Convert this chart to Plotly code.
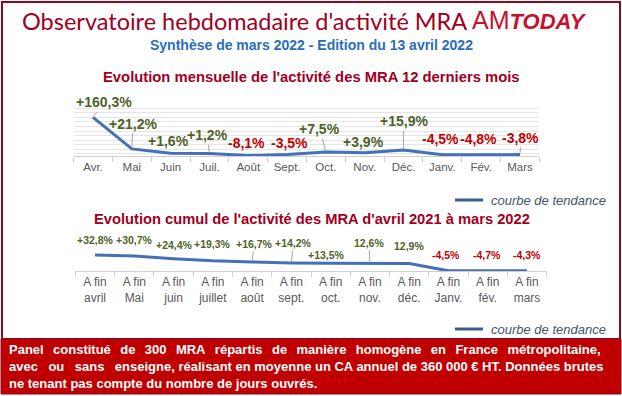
import plotly.graph_objects as go

# ---------------- data ----------------
months = ["Avr.", "Mai", "Juin", "Juil.", "Août", "Sept.", "Oct.", "Nov.", "Déc.", "Janv.", "Fév.", "Mars"]
monthly = [160.3, 21.2, 1.6, 1.2, -8.1, -3.5, 7.5, 3.9, 15.9, -4.5, -4.8, -3.8]
monthly_labels = ["+160,3%", "+21,2%", "+1,6%", "+1,2%", "-8,1%", "-3,5%", "+7,5%", "+3,9%", "+15,9%", "-4,5%", "-4,8%", "-3,8%"]

cumul_months = ["avril", "Mai", "juin", "juillet", "août", "sept.", "oct.", "nov.", "déc.", "Janv.", "fév.", "mars"]
cumul = [32.8, 30.7, 24.4, 19.3, 16.7, 14.2, 13.5, 12.6, 12.9, -4.5, -4.7, -4.3]
cumul_labels = ["+32,8%", "+30,7%", "+24,4%", "+19,3%", "+16,7%", "+14,2%", "+13,5%", "12,6%", "12,9%", "-4,5%", "-4,7%", "-4,3%"]

# ---------------- styles ----------------
W, H = 622, 396
FONT = "Liberation Sans, Arial, sans-serif"
LINE = "#4470B8"
GREEN = "#4F6228"
RED = "#C00000"
DARKRED = "#A0001E"
FRAME = "#8B0A1E"
GRID = "#E6E6E6"
AXIS = "#D0D0D0"
TICKTXT = "#595959"


def px(x):
    return x / W


def py(y):
    return 1 - y / H


# label offsets (pixels) & which ones have a leader line
top_off = [(11, -15), (1, -25), (-2, -12), (-2, -18), (-2, -13), (2, -12),
           (-6, -23), (-1, -11), (0, -29), (-2, -16), (-3, -16), (1, -17)]
top_leader = {0, 1, 3, 6, 8, 11}
bot_off = [(0, -15), (0, -16), (1, -14), (0, -17), (2, -18), (2, -20),
           (-4, -8), (-1, -21), (0, -17), (-2, -16), (-1, -16), (0, -16)]
bot_leader = {4, 5, 7}

fig = go.Figure()
fig.add_trace(go.Scatter(x=months, y=monthly, mode="lines", xaxis="x", yaxis="y",
                         line=dict(color=LINE, width=3), hoverinfo="skip", showlegend=False))
fig.add_trace(go.Scatter(x=cumul_months, y=cumul, mode="lines", xaxis="x2", yaxis="y2",
                         line=dict(color=LINE, width=3), hoverinfo="skip", showlegend=False))

annotations = []
for i, (m, v, t) in enumerate(zip(months, monthly, monthly_labels)):
    ax, ay = top_off[i]
    annotations.append(dict(
        x=m, y=v, xref="x", yref="y", text="<b>" + t + "</b>", showarrow=True, ax=ax, ay=ay,
        arrowhead=0, arrowwidth=1, standoff=1,
        arrowcolor="#A6A6A6" if i in top_leader else "rgba(0,0,0,0)",
        font=dict(family=FONT, size=14, color=GREEN if v >= 0 else RED),
    ))
for i, (m, v, t) in enumerate(zip(cumul_months, cumul, cumul_labels)):
    ax, ay = bot_off[i]
    annotations.append(dict(
        x=m, y=v, xref="x2", yref="y2", text="<b>" + t + "</b>", showarrow=True, ax=ax, ay=ay,
        arrowhead=0, arrowwidth=1, standoff=1,
        arrowcolor="#A6A6A6" if i in bot_leader else "rgba(0,0,0,0)",
        font=dict(family=FONT, size=10.5, color=GREEN if v >= 0 else RED),
    ))

# titles
annotations += [
    dict(x=px(20), y=py(21), xref="paper", yref="paper", xanchor="left", yanchor="middle",
         text="Observatoire hebdomadaire d'activité MRA", showarrow=False,
         font=dict(family="Lato, sans-serif", size=23.5, color=DARKRED)),
    dict(x=px(589), y=py(20), xref="paper", yref="paper", xanchor="right", yanchor="middle",
         text="AM<b><i><span style='font-size:22px'>TODAY</span></i></b>", showarrow=False,
         font=dict(family=FONT, size=25, color="#C8102E")),
    dict(x=px(311), y=py(45), xref="paper", yref="paper", xanchor="center", yanchor="middle",
         text="<b>Synthèse de mars 2022 - Edition du 13 avril 2022</b>", showarrow=False,
         font=dict(family=FONT, size=14, color="#2A6EBB")),
    dict(x=px(311), y=py(77), xref="paper", yref="paper", xanchor="center", yanchor="middle",
         text="<b>Evolution mensuelle de l'activité des MRA 12 derniers mois</b>", showarrow=False,
         font=dict(family=FONT, size=14.8, color=DARKRED)),
    dict(x=px(312), y=py(219), xref="paper", yref="paper", xanchor="center", yanchor="middle",
         text="<b>Evolution cumul de l'activité des MRA d'avril 2021 à mars 2022</b>", showarrow=False,
         font=dict(family=FONT, size=14.7, color=DARKRED)),
]

# legends ("courbe de tendance")
shapes = []
for ly in (200, 329):
    shapes.append(dict(type="line", xref="paper", yref="paper", x0=px(455), x1=px(483),
                       y0=py(ly), y1=py(ly), line=dict(color="#3E5B8C", width=3)))
    annotations.append(dict(x=px(489), y=py(ly), xref="paper", yref="paper", xanchor="left",
                            yanchor="middle", text="<i>courbe de tendance</i>", showarrow=False,
                            font=dict(family=FONT, size=13, color="#44546A")))

# frame and footer
shapes.append(dict(type="rect", xref="paper", yref="paper", x0=px(2), x1=px(620), y0=py(339), y1=py(2),
                   line=dict(color=FRAME, width=2), fillcolor="rgba(0,0,0,0)", layer="below"))
shapes.append(dict(type="rect", xref="paper", yref="paper", x0=px(1), x1=px(621), y0=py(394), y1=py(339),
                   line=dict(color=FRAME, width=1), fillcolor="#C00000", layer="below"))

GAP1 = "\u00a0\u00a0\u2006"
GAP2 = "\u00a0\u00a0\u2005"
footer_lines = [
    GAP1.join(["Panel", "constitué", "de", "300", "MRA", "répartis", "de", "manière",
               "homogène", "en", "France", "métropolitaine,"]),
    GAP2.join(["avec", "ou", "sans", "enseigne,"]) + " réalisant en moyenne un CA annuel de 360 000 € HT. Données brutes",
    "ne tenant pas compte du nombre de jours ouvrés.",
]
for k, ln in enumerate(footer_lines):
    annotations.append(dict(x=px(7), y=py(349 + 17 * k), xref="paper", yref="paper", xanchor="left",
                            yanchor="middle", text="<b>" + ln + "</b>", showarrow=False,
                            font=dict(family=FONT, size=13, color="white")))

xcommon = dict(type="category", showgrid=False, showline=True, linecolor=AXIS, linewidth=1,
               ticks="outside", tickson="boundaries", ticklen=5, tickcolor=AXIS,
               zeroline=False, fixedrange=True, range=[-0.5, 11.5])

fig.update_layout(
    width=W, height=H, autosize=False,
    margin=dict(l=0, r=0, t=0, b=0),
    paper_bgcolor="white", plot_bgcolor="rgba(0,0,0,0)",
    showlegend=False,
    xaxis=dict(xcommon, domain=[px(73.6), px(539.4)], anchor="y",
               tickfont=dict(family=FONT, size=11.5, color=TICKTXT)),
    yaxis=dict(domain=[py(156), py(106)], range=[-10, 210], tick0=0, dtick=20, showgrid=True,
               gridcolor=GRID, gridwidth=1, showticklabels=False, zeroline=False, anchor="x",
               fixedrange=True),
    xaxis2=dict(xcommon, domain=[px(75.4), px(546.6)], anchor="y2",
                tickvals=cumul_months, ticktext=["A fin<br>" + m for m in cumul_months],
                tickfont=dict(family=FONT, size=12, color=TICKTXT)),
    yaxis2=dict(domain=[py(271), py(250)], range=[-5, 45], tickvals=[45], showgrid=True,
                gridcolor=GRID, showticklabels=False, zeroline=False, anchor="x2", fixedrange=True),
    annotations=annotations,
    shapes=shapes,
)

fig.write_html("out.html", config={"displayModeBar": False},
               post_script="document.body.style.margin='0';document.body.style.overflow='hidden';")
